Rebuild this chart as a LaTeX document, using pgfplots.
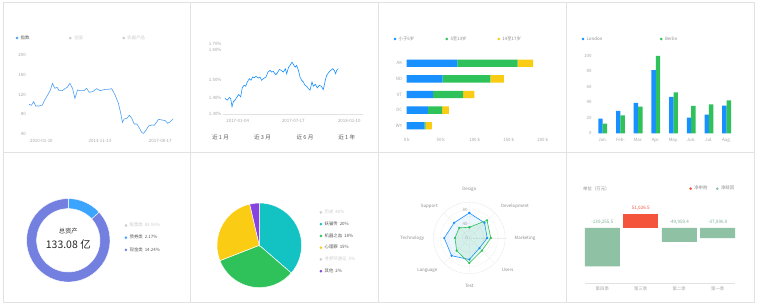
\documentclass[border=0pt]{standalone}
\usepackage{fontspec}
\setmainfont{Noto Sans CJK SC}
\usepackage{pgfplots}
\pgfplotsset{compat=1.18}
\usepgfplotslibrary{polar}

\definecolor{tgray}{HTML}{A6A6A6}
\definecolor{lgray}{HTML}{CCCCCC}
\definecolor{dgray}{HTML}{595959}
\definecolor{mgray}{HTML}{8C8C8C}
\definecolor{c1}{HTML}{4A9FF5}
\definecolor{gblue}{HTML}{1890FF}
\definecolor{ggreen}{HTML}{2FC25B}
\definecolor{gyellow}{HTML}{FACC14}
\definecolor{gteal}{HTML}{13C2C2}
\definecolor{gpurple}{HTML}{8543E0}
\definecolor{dblue}{HTML}{3BA4FF}
\definecolor{dpurple}{HTML}{7480E0}
\definecolor{wred}{HTML}{F5543C}
\definecolor{wgreen}{HTML}{8FC1A5}
\definecolor{wgtext}{HTML}{7FAF95}
\definecolor{border}{HTML}{E2E2E2}
\definecolor{rgrid}{HTML}{E6E6E6}

\newcommand\tk{\fontsize{4.4}{5}\selectfont}

\pgfplotsset{
  base/.style={scale only axis, clip=false, axis line style={draw=none}, tick style={draw=none},
    major tick length=0pt, ticklabel style={font=\tk, text=tgray, inner sep=0pt},
    /pgf/number format/assume math mode=true},
  dl/.style={legend image code/.code={\path (-1.1pt,0pt) (3pt,0pt); \fill[#1] (0pt,0pt) circle (1.1pt);}},
  hleg/.style={legend columns=-1, legend style={draw=none, fill=none, inner sep=0pt, font=\tk, text=mgray, nodes={inner sep=0.5pt}}},
  vleg/.style={legend columns=1, legend cell align=left, legend style={draw=none, fill=none, inner sep=0pt, font=\tk, text=dgray, row sep=6pt, nodes={inner sep=0.5pt}}},
}

\begin{document}
\begin{tikzpicture}
\path[use as bounding box, fill=white] (0pt,0pt) rectangle (759pt,306pt);
\foreach \x in {3,190.75,378.5,566.25}{
  \draw[border, line width=0.6pt] (\x pt,4.1pt) rectangle ++(187.75pt,149.6pt);
  \draw[border, line width=0.6pt] (\x pt,153.7pt) rectangle ++(187.75pt,149.6pt);
}

% angles for donut and pie
\pgfmathsetmacro\dsum{2.17+14.24}
\pgfmathsetmacro\da{90-360*2.17/\dsum}
\pgfmathsetmacro\dab{\da+180}
\pgfmathsetmacro\ps{20+18+15+2}
\pgfmathsetmacro\pa{90-360*20/\ps}
\pgfmathsetmacro\pb{\pa-360*18/\ps}
\pgfmathsetmacro\pc{\pb-360*15/\ps}

% ---------- Panel 1 ----------
\begin{axis}[base, hleg, at={(29pt,172pt)}, anchor=south west, width=144pt, height=79pt,
  xmin=88, xmax=518, ymin=40, ymax=200,
  xtick={125,300,480}, xticklabels={2010-01-10,2013-11-13,2017-08-17},
  ytick={40,80,120,160,200}, yticklabels={40,80,120,160,200},
  xticklabel style={anchor=center, yshift=-7pt}, yticklabel style={anchor=east, xshift=-3pt},
  legend style={at={(-0.094,1.215)}, anchor=west}]
\addlegendimage{dl=c1}\addlegendentry{\makebox[47.9pt][l]{\color{dgray}指数}}
\addlegendimage{dl=lgray}\addlegendentry{\makebox[47.9pt][l]{\color{lgray}全国}}
\addlegendimage{dl=lgray}\addlegendentry{\makebox[47.9pt][l]{\color{lgray}农副产品}}
\addplot[c1, line width=0.6pt] coordinates {
(88,100.1)(95,98.1)(102,105.5)(108,96.7)(118,96.7)(128,98.75)(135,108.9)(145,120.4)
(152,129.1)(158,142.6)(165,132.5)(172,134.5)(178,127.8)(188,127.8)(195,131.8)(202,134.5)
(210,142.6)(218,132.5)(225,112.3)(233,129.1)(242,127.8)(252,127.8)(260,132.5)(268,124.4)
(278,125.8)(290,131.8)(300,127.8)(308,129.1)(316,130.5)(325,130.5)(335,131.8)(345,119)
(355,102.1)(362,81.9)(367,63.6)(372,70.4)(380,71.75)(388,77.8)(395,71.75)(402,60.3)
(410,60.3)(418,51.5)(425,42.7)(430,41.4)(438,48.1)(445,56.2)(455,58.25)(462,57.6)
(468,63)(475,69.7)(485,68.4)(495,67)(502,61.6)(510,65)(518,70.4)};
\end{axis}

% ---------- Panel 2 ----------
\begin{axis}[base, at={(225pt,191.7pt)}, anchor=south west, width=138.3pt, height=70pt,
  xmin=105, xmax=520, ymin=1.3, ymax=1.704,
  xtick={143,310,478}, xticklabels={2017-01-04,2017-07-17,2018-01-10},
  ytick={1.3,1.397,1.5,1.6714,1.7038}, yticklabels={1.30\%,1.40\%,1.50\%,1.60\%,1.70\%},
  xticklabel style={anchor=center, yshift=-6.7pt}, yticklabel style={anchor=east, xshift=-3.3pt}]
\draw[border, line width=0.5pt] (axis cs:100,1.3) -- (axis cs:520,1.3);
\addplot[gblue, line width=0.6pt] coordinates {
(105,1.3914)(112,1.3819)(118,1.3971)(122,1.3914)(126,1.3438)(130,1.3724)(135,1.3819)(140,1.3971)
(146,1.4143)(152,1.4010)(157,1.4543)(162,1.4676)(167,1.4619)(172,1.4867)(178,1.5057)(183,1.4962)
(188,1.5152)(193,1.5114)(198,1.5190)(205,1.5095)(210,1.5152)(215,1.4962)(220,1.5057)(228,1.5152)
(234,1.5438)(240,1.5533)(245,1.5438)(250,1.5476)(257,1.5286)(262,1.5381)(268,1.5590)(274,1.5533)
(280,1.5438)(286,1.5629)(290,1.5343)(296,1.5724)(300,1.5819)(306,1.6010)(312,1.5819)(316,1.5724)
(320,1.5819)(326,1.5495)(330,1.5152)(335,1.4962)(340,1.4867)(345,1.4676)(350,1.4619)(355,1.4486)
(360,1.4390)(366,1.4867)(370,1.4619)(376,1.4733)(382,1.4524)(388,1.4676)(394,1.4619)(400,1.4429)
(406,1.4962)(410,1.5248)(415,1.5381)(420,1.5495)(428,1.5629)(433,1.5533)(437,1.5343)(440,1.5533)
(445,1.5629)};
\end{axis}
\foreach \xx/\tt in {220.5/近 1 月, 262.5/近 3 月, 305/近 6 月, 346.7/近 1 年}{
  \node[font=\fontsize{5.6}{6}\selectfont, text=dgray, inner sep=0pt] at (\xx pt,168.7pt) {\tt};
}

% ---------- Panel 3 ----------
\begin{axis}[base, hleg, xbar stacked, bar width=7.3pt, dl=gblue,
  at={(406.7pt,172.5pt)}, anchor=south west, width=136pt, height=78pt,
  xmin=0, xmax=200, ymin=-0.5, ymax=4.5,
  xtick={0,50,100,150,200}, xticklabels={0 k,50 k,100 k,150 k,200 k},
  ytick={0,1,2,3,4}, yticklabels={WY,DC,VT,ND,AK},
  xticklabel style={anchor=center, yshift=-6.5pt}, yticklabel style={anchor=east, xshift=-4.4pt},
  legend style={at={(-0.0978,1.2115)}, anchor=west}]
\addlegendimage{dl=gblue}\addlegendentry{\makebox[46.4pt][l]{小于5岁}}
\addlegendimage{dl=ggreen}\addlegendentry{\makebox[46.4pt][l]{5至13岁}}
\addlegendimage{dl=gyellow}\addlegendentry{\makebox[46.4pt][l]{14至17岁}}
\addplot[fill=gblue, draw=none] coordinates {(74.5,4) (53,3) (39,2) (31,1) (26,0)};
\addplot[fill=ggreen, draw=none] coordinates {(88.5,4) (70,3) (44,2) (21,1) (2,0)};
\addplot[fill=gyellow, draw=none] coordinates {(23,4) (20,3) (16.5,2) (10,1) (9,0)};
\end{axis}

% ---------- Panel 4 ----------
\begin{axis}[base, hleg, ybar=0pt, bar width=4.4pt, dl=gblue,
  at={(593.85pt,172.7pt)}, anchor=south west, width=141.6pt, height=77.6pt,
  xmin=-0.5, xmax=7.5, ymin=0, ymax=100,
  xtick={0,...,7}, xticklabels={Jan.,Feb.,Mar.,Apr.,May.,Jun.,Jul.,Aug.},
  ytick={0,20,40,60,80,100}, yticklabels={0,20,40,60,80,100},
  xticklabel style={anchor=center, yshift=-6.7pt}, yticklabel style={anchor=east, xshift=-2.2pt},
  legend style={at={(-0.0879,1.2152)}, anchor=west}]
\addlegendimage{dl=gblue}\addlegendentry{\makebox[72.9pt][l]{London}}
\addlegendimage{dl=ggreen}\addlegendentry{\makebox[72.9pt][l]{Berlin}}
\addplot[fill=gblue, draw=none] coordinates {(0,18.9)(1,28.8)(2,39.3)(3,81.4)(4,47)(5,20.3)(6,24)(7,35.6)};
\addplot[fill=ggreen, draw=none] coordinates {(0,12.4)(1,23.2)(2,34.5)(3,99.7)(4,52.6)(5,35.5)(6,37.4)(7,42.4)};
\end{axis}

% ---------- Panel 5 (donut) ----------
\begin{axis}[hide axis, vleg, scale only axis, clip=false, at={(68.3pt,65.7pt)}, anchor=center,
  width=83.4pt, height=83.4pt, xmin=-1, xmax=1, ymin=-1, ymax=1,
  legend style={at={(1.1727,0.531)}, anchor=west}]
\addlegendimage{dl=lgray}\addlegendentry{\color{lgray}股票类\hspace{2pt}83.59\%}
\addlegendimage{dl=dblue}\addlegendentry{债券类\hspace{2pt}2.17\%}
\addlegendimage{dl=dpurple}\addlegendentry{现金类\hspace{2pt}14.24\%}
\fill[dblue, draw=white, line width=0.4pt] (axis cs:0,0) ++(90:41.7pt) arc[start angle=90,end angle=\da,radius=41.7pt] -- ++(\dab:10pt) arc[start angle=\da,end angle=90,radius=31.7pt] -- cycle;
\fill[dpurple, draw=white, line width=0.4pt] (axis cs:0,0) ++(\da:41.7pt) arc[start angle=\da,end angle=-270,radius=41.7pt] -- ++(270:10pt) arc[start angle=-270,end angle=\da,radius=31.7pt] -- cycle;
\end{axis}
\node[font=\fontsize{6.3}{7}\selectfont, text=black!80, inner sep=0pt] at (68.3pt,74.7pt) {总资产};
\node[font=\fontsize{10.5}{11}\selectfont, text=black!85, inner sep=0pt] at (68.3pt,61.7pt) {133.08 亿};

% ---------- Panel 6 (pie) ----------
\begin{axis}[hide axis, vleg, scale only axis, clip=false, at={(259.3pt,60.7pt)}, anchor=center,
  width=84.6pt, height=84.6pt, xmin=-1, xmax=1, ymin=-1, ymax=1,
  legend style={at={(1.2104,0.5414)}, anchor=west, row sep=5.6pt}]
\addlegendimage{dl=lgray}\addlegendentry{\color{lgray}历史\hspace{2pt}40\%}
\addlegendimage{dl=gteal}\addlegendentry{妖猫传\hspace{2pt}20\%}
\addlegendimage{dl=ggreen}\addlegendentry{机器之血\hspace{2pt}18\%}
\addlegendimage{dl=gyellow}\addlegendentry{心理罪\hspace{2pt}15\%}
\addlegendimage{dl=lgray}\addlegendentry{\color{lgray}寻梦环游记\hspace{2pt}5\%}
\addlegendimage{dl=gpurple}\addlegendentry{其他\hspace{2pt}2\%}
\fill[gteal, draw=white, line width=0.5pt] (axis cs:0,0) -- ++(90:42.3pt) arc[start angle=90,end angle=\pa,radius=42.3pt] -- cycle;
\fill[ggreen, draw=white, line width=0.5pt] (axis cs:0,0) -- ++(\pa:42.3pt) arc[start angle=\pa,end angle=\pb,radius=42.3pt] -- cycle;
\fill[gyellow, draw=white, line width=0.5pt] (axis cs:0,0) -- ++(\pb:42.3pt) arc[start angle=\pb,end angle=\pc,radius=42.3pt] -- cycle;
\fill[gpurple, draw=white, line width=0.5pt] (axis cs:0,0) -- ++(\pc:42.3pt) arc[start angle=\pc,end angle=-270,radius=42.3pt] -- cycle;
\end{axis}

% ---------- Panel 7 (radar) ----------
\begin{polaraxis}[scale only axis, clip=false, at={(469.3pt,68pt)}, anchor=center,
  width=71.6pt, height=71.6pt, ymin=0, ymax=100,
  xtick={0,45,...,315}, ytick={20,40,60,80,100}, xticklabels={}, yticklabels={},
  grid=major, major grid style={rgrid, dash pattern=on 0.8pt off 0.8pt, line width=0.3pt},
  axis line style={rgrid, dash pattern=on 0.8pt off 0.8pt, line width=0.3pt},
  tick style={draw=none}, major tick length=0pt]
\addplot[gblue, line width=0.6pt, fill=gblue, fill opacity=0.08, mark=*, mark size=0.8pt,
  mark options={fill=gblue, fill opacity=1}] coordinates {
  (90,70)(45,60)(0,50)(315,40)(270,60)(225,70)(180,70)(135,60)(90,70)};
\addplot[ggreen, line width=0.6pt, fill=ggreen, fill opacity=0.12, mark=*, mark size=0.8pt,
  mark options={fill=ggreen, fill opacity=1}] coordinates {
  (90,30)(45,70)(0,60)(315,50)(270,70)(225,50)(180,40)(135,40)(90,30)};
\end{polaraxis}
\begin{scope}[every node/.style={font=\tk, text=mgray, inner sep=0pt}]
\node at (469.3pt,116.7pt) {Design};
\node at (515pt,100pt) {Development};
\node at (525pt,68pt) {Marketing};
\node at (507.7pt,36pt) {Users};
\node at (469.3pt,19.7pt) {Test};
\node at (427.3pt,36pt) {Language};
\node at (412.3pt,68pt) {Technology};
\node at (429.3pt,100pt) {Support};
\node[text=tgray] at (465pt,96.3pt) {80};
\node[text=tgray] at (465pt,82.3pt) {40};
\node[text=tgray] at (466.7pt,68pt) {0};
\end{scope}

% ---------- Panel 8 (waterfall) ----------
\begin{axis}[base, hleg, ybar, bar width=35pt,
  at={(583.07pt,22.94pt)}, anchor=south west, width=153.9pt, height=82.6pt,
  xmin=-0.5, xmax=3.5, ymin=-200, ymax=100,
  xtick={0,1,2,3}, xticklabels={第四季,第三季,第二季,第一季}, ytick=\empty,
  xticklabel style={anchor=center, yshift=-6.2pt},
  legend style={at={(0.689,1.1424)}, anchor=west}]
\addlegendimage{dl=wred}\addlegendentry{\makebox[21.2pt][l]{净申购}}
\addlegendimage{dl=wgreen}\addlegendentry{\makebox[21.2pt][l]{净赎回}}
\draw[border, line width=0.5pt] (axis cs:-0.45,-200) -- (axis cs:3.45,-200);
\addplot[fill=wred, draw=none, bar shift=0pt] coordinates {(1,51.0265)};
\addplot[fill=wgreen, draw=none, bar shift=0pt] coordinates {(0,-139.2555)(2,-49.9594)(3,-37.096)};
\node[font=\fontsize{4.6}{5}\selectfont, text=wgtext, inner sep=0pt, yshift=5.7pt] at (axis cs:0,0) {-139,255.5};
\node[font=\fontsize{4.6}{5}\selectfont, text=wred, inner sep=0pt, yshift=5.8pt] at (axis cs:1,51.0265) {51,026.5};
\node[font=\fontsize{4.6}{5}\selectfont, text=wgtext, inner sep=0pt, yshift=5.7pt] at (axis cs:2,0) {-49,959.4};
\node[font=\fontsize{4.6}{5}\selectfont, text=wgtext, inner sep=0pt, yshift=5.7pt] at (axis cs:3,0) {-37,096.0};
\end{axis}
\node[font=\tk, text=mgray, inner sep=0pt, anchor=west] at (583pt,117.3pt) {单位（万元）};

\end{tikzpicture}
\end{document}
